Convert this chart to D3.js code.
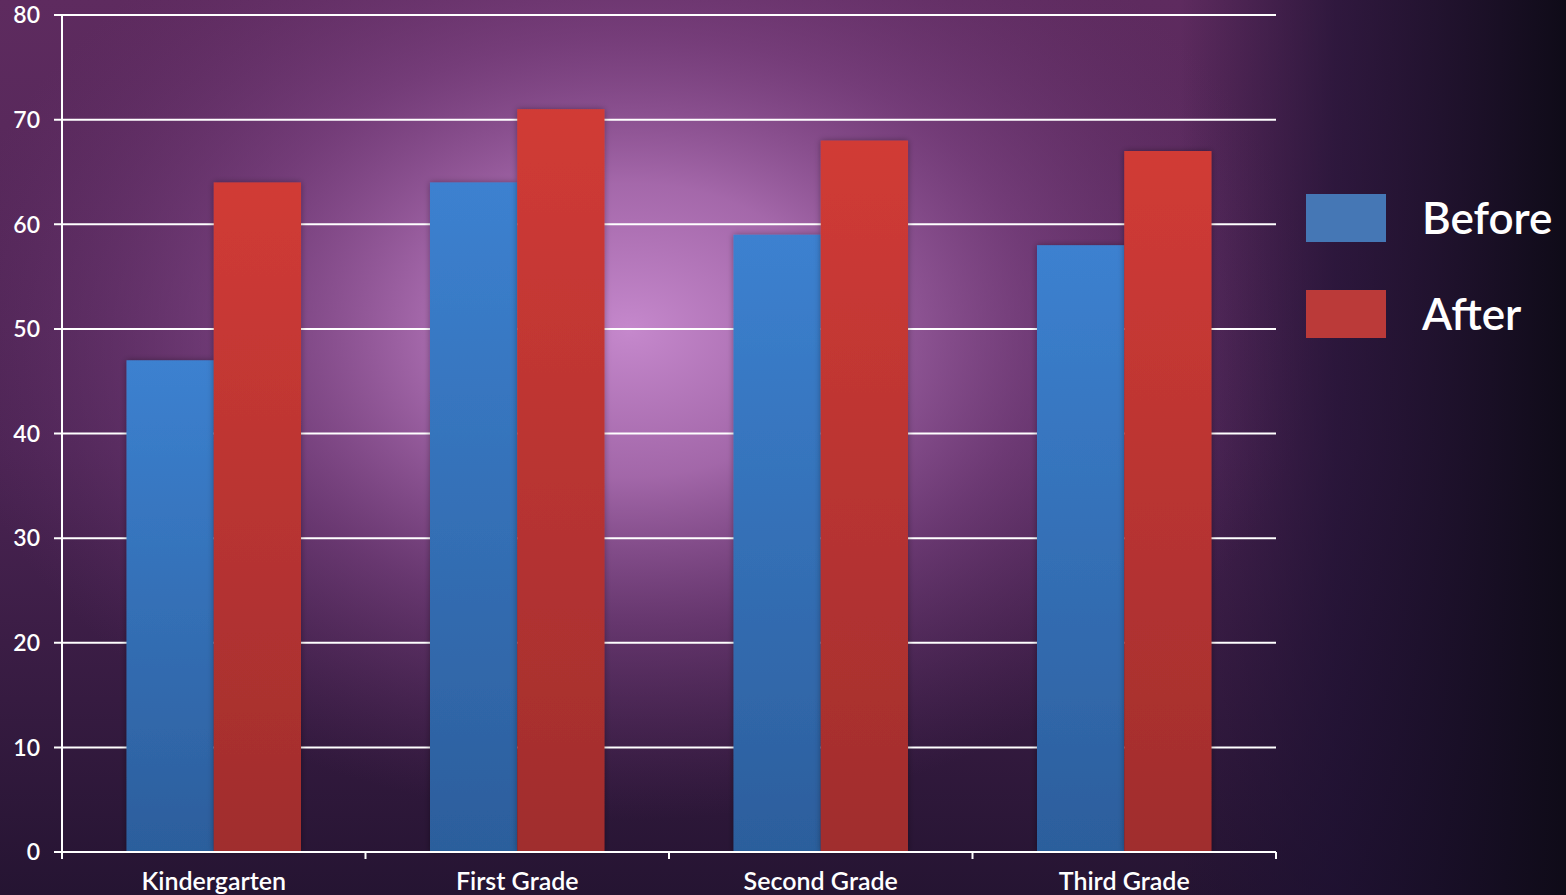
<!DOCTYPE html>
<html><head><meta charset="utf-8">
<script src="https://cdn.jsdelivr.net/npm/d3@7"></script>
<style>html,body{margin:0;padding:0;background:#1a1028;overflow:hidden}svg{display:block}</style>
</head><body>
<script>
const categories = ["Kindergarten", "First Grade", "Second Grade", "Third Grade"];
const seriesNames = ["Before", "After"];
const beforeValues = [47, 64, 59, 58];
const afterValues = [64, 71, 68, 67];
const yTicks = [0, 10, 20, 30, 40, 50, 60, 70, 80];

const W = 1566, H = 895;
const M = {left: 62, right: 1276, top: 15, bottom: 852};
const FONT = "Lato, 'Noto Sans', sans-serif";

const svg = d3.select("body").append("svg").attr("width", W).attr("height", H);
const defs = svg.append("defs");

// base vertical gradient
const base = defs.append("linearGradient").attr("id", "base").attr("x1", 0).attr("x2", 0).attr("y1", 0).attr("y2", 1);
[[0, "#5e2b5f"], [0.5, "#4c2454"], [1, "#251432"]]
  .forEach(([o, c]) => base.append("stop").attr("offset", o).attr("stop-color", c));
// glow
const glow = defs.append("radialGradient").attr("id", "glow").attr("gradientUnits", "userSpaceOnUse")
  .attr("cx", 630).attr("cy", 330).attr("r", 490)
  .attr("gradientTransform", "translate(630,330) scale(1.4,1) translate(-630,-330)");
[[0, "#c588cc", 1], [0.3, "#b273b8", 0.85], [0.6, "#8e4f94", 0.5], [1, "#6a3470", 0]]
  .forEach(([o, c, a]) => glow.append("stop").attr("offset", o).attr("stop-color", c).attr("stop-opacity", a));
// right darkening
const rg = defs.append("linearGradient").attr("id", "rightDark").attr("gradientUnits", "userSpaceOnUse")
  .attr("x1", 1180).attr("x2", 1566).attr("y1", 0).attr("y2", 0);
[[0, "#1c1030", 0], [0.4, "#1c1030", 0.7], [1, "#0f0b18", 1]]
  .forEach(([o, c, a]) => rg.append("stop").attr("offset", o).attr("stop-color", c).attr("stop-opacity", a));

function vgrad(id, top, bot) {
  const g = defs.append("linearGradient").attr("id", id).attr("x1", 0).attr("x2", 0).attr("y1", 0).attr("y2", 1);
  g.append("stop").attr("offset", 0).attr("stop-color", top);
  g.append("stop").attr("offset", 1).attr("stop-color", bot);
}
vgrad("gBefore", "#3c81d0", "#2c5e9c");
vgrad("gAfter", "#d13b36", "#a02d2d");
const f = defs.append("filter").attr("id", "sh").attr("x", -0.2).attr("y", -0.2).attr("width", 1.4).attr("height", 1.4);
f.append("feDropShadow").attr("dx", 0).attr("dy", 0).attr("stdDeviation", 3).attr("flood-color", "#000").attr("flood-opacity", 0.35);

svg.append("rect").attr("width", W).attr("height", H).attr("fill", "url(#base)");
svg.append("rect").attr("width", W).attr("height", H).attr("fill", "url(#glow)");
svg.append("rect").attr("width", W).attr("height", H).attr("fill", "url(#rightDark)");

const y = d3.scaleLinear().domain([0, 80]).range([M.bottom, M.top]);
const x0 = d3.scaleBand().domain(categories).range([M.left, M.right]).paddingInner(0.425).paddingOuter(0.2125);
const x1 = d3.scaleBand().domain(seriesNames).range([0, x0.bandwidth()]);

// gridlines
svg.append("g").selectAll("line").data(yTicks.filter(t => t > 0)).join("line")
  .attr("x1", M.left - 8).attr("x2", M.right).attr("y1", d => y(d)).attr("y2", d => y(d))
  .attr("stroke", "#fff").attr("stroke-width", 2);

// y labels
svg.append("g").selectAll("text").data(yTicks).join("text")
  .attr("x", 40).attr("y", d => y(d)).attr("dy", "0.36em").attr("text-anchor", "end")
  .attr("fill", "#fff").attr("font-family", FONT).attr("font-size", 23).attr("font-weight", 600).text(d => d);

// bars
const data = categories.map((c, i) => ({cat: c, vals: [
  {s: "Before", v: beforeValues[i]}, {s: "After", v: afterValues[i]}]}));
const groups = svg.append("g").selectAll("g").data(data).join("g")
  .attr("transform", d => `translate(${x0(d.cat)},0)`);
groups.selectAll("rect").data(d => d.vals).join("rect")
  .attr("x", d => x1(d.s)).attr("width", x1.bandwidth())
  .attr("y", d => y(d.v)).attr("height", d => y(0) - y(d.v))
  .attr("fill", d => d.s === "Before" ? "url(#gBefore)" : "url(#gAfter)")
  .attr("filter", "url(#sh)");

// axes
svg.append("line").attr("x1", M.left).attr("x2", M.left).attr("y1", M.top).attr("y2", M.bottom + 6)
  .attr("stroke", "#fff").attr("stroke-width", 2);
svg.append("line").attr("x1", M.left - 8).attr("x2", M.right).attr("y1", M.bottom).attr("y2", M.bottom)
  .attr("stroke", "#fff").attr("stroke-width", 2);
const bounds = [M.left].concat(categories.map(c => x0(c) + x0.bandwidth() / 2 + x0.step() / 2));
svg.append("g").selectAll("line").data(bounds).join("line")
  .attr("x1", d => d).attr("x2", d => d).attr("y1", M.bottom).attr("y2", M.bottom + 7)
  .attr("stroke", "#fff").attr("stroke-width", 2);

// category labels
svg.append("g").selectAll("text").data(categories).join("text")
  .attr("x", d => x0(d) + x0.bandwidth() / 2).attr("y", 890).attr("text-anchor", "middle")
  .attr("fill", "#fff").attr("font-family", FONT).attr("font-size", 25).attr("font-weight", 600).text(d => d);

// legend
const legColors = {Before: "#4577b5", After: "#bb3a39"};
const leg = svg.append("g").selectAll("g").data(seriesNames).join("g")
  .attr("transform", (d, i) => `translate(1306,${194 + i * 96})`);
leg.append("rect").attr("width", 80).attr("height", 48).attr("fill", d => legColors[d]);
leg.append("text").attr("x", 116).attr("y", 24).attr("dy", "0.36em")
  .attr("fill", "#fff").attr("font-family", FONT).attr("font-size", 44).attr("font-weight", 600).text(d => d);
</script>
</body></html>
